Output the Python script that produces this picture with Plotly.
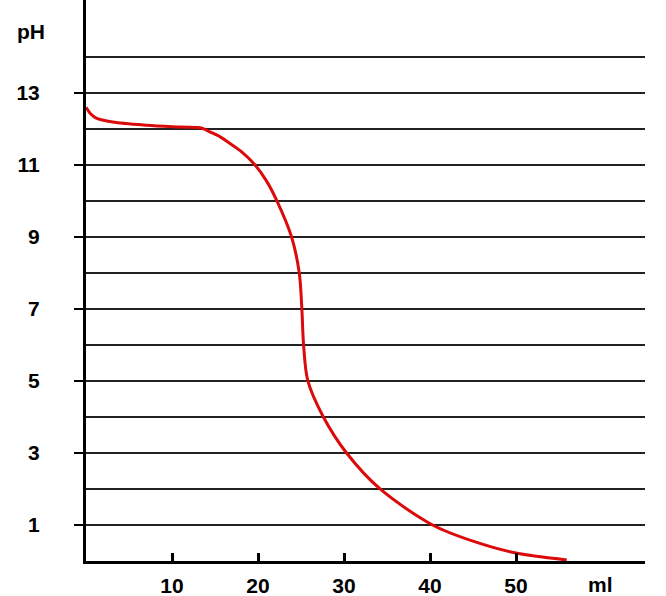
import plotly.graph_objects as go

# Titration curve data (volume in ml, pH)
volume_ml = [0, 0.5, 1.2, 3.1, 7.1, 10.9, 13.5, 14.4, 15.6, 16.7, 18.1, 19.65, 21.0, 22.2, 23.9, 24.8, 25.1, 25.3, 25.8, 27.6, 30.3, 34.2, 40.3, 45.0, 50, 55.9]
ph_values = [12.6, 12.43, 12.3, 12.19, 12.1, 12.05, 12.02, 11.92, 11.78, 11.6, 11.36, 11.0, 10.55, 10.0, 9.0, 8.0, 7.0, 6.0, 5.0, 4.0, 3.0, 2.0, 1.0, 0.55, 0.22, 0.03]

x_ticks = [10, 20, 30, 40, 50]
y_ticks = [1, 3, 5, 7, 9, 11, 13]
y_minor_grid = [2, 4, 6, 8, 10, 12, 14]

FONT = "Liberation Sans, Arial, sans-serif"
FS = 21

fig = go.Figure()
fig.add_trace(go.Scatter(
    x=volume_ml, y=ph_values, mode="lines",
    line=dict(color="#dc0a0a", width=3, shape="spline", smoothing=0.9),
    hoverinfo="skip", showlegend=False,
))

fig.update_layout(
    width=666, height=596,
    margin=dict(l=86, r=21, t=0, b=35),
    paper_bgcolor="white", plot_bgcolor="white",
    showlegend=False,
    font=dict(family=FONT, size=FS, color="black"),
    xaxis=dict(
        range=[0, 65], showgrid=False, zeroline=False, automargin=False,
        showline=True, linecolor="black", linewidth=3,
        tickmode="array", tickvals=x_ticks, ticktext=[str(v) for v in x_ticks],
        ticks="inside", ticklen=8, tickwidth=3, tickcolor="black",
        tickfont=dict(family=FONT, size=FS, color="black", weight="bold"),
        ticklabelstandoff=4,
    ),
    yaxis=dict(
        range=[0, 15.58], zeroline=False, automargin=False,
        showline=True, linecolor="black", linewidth=3,
        tickmode="array", tickvals=y_ticks, ticktext=[str(v) for v in y_ticks],
        ticks="outside", ticklen=9, tickwidth=2, tickcolor="black",
        tickfont=dict(family=FONT, size=FS, color="black", weight="bold"),
        ticklabelstandoff=30,
        showgrid=True, gridcolor="#222222", gridwidth=1.5,
        minor=dict(tickvals=y_minor_grid, showgrid=True, gridcolor="#222222", gridwidth=1.5, ticks=""),
    ),
    annotations=[
        dict(text="pH", xref="paper", yref="paper", x=-0.098, y=0.943,
             showarrow=False, xanchor="center", yanchor="middle",
             font=dict(family=FONT, size=FS, color="black", weight="bold")),
        dict(text="ml", xref="x", yref="paper", x=59.8, y=-0.042,
             showarrow=False, xanchor="center", yanchor="middle",
             font=dict(family=FONT, size=FS, color="black", weight="bold")),
    ],
)

fig.write_html(
    "out.html",
    config={"displayModeBar": False},
    post_script="document.body.style.margin='0';document.body.style.padding='0';",
)
